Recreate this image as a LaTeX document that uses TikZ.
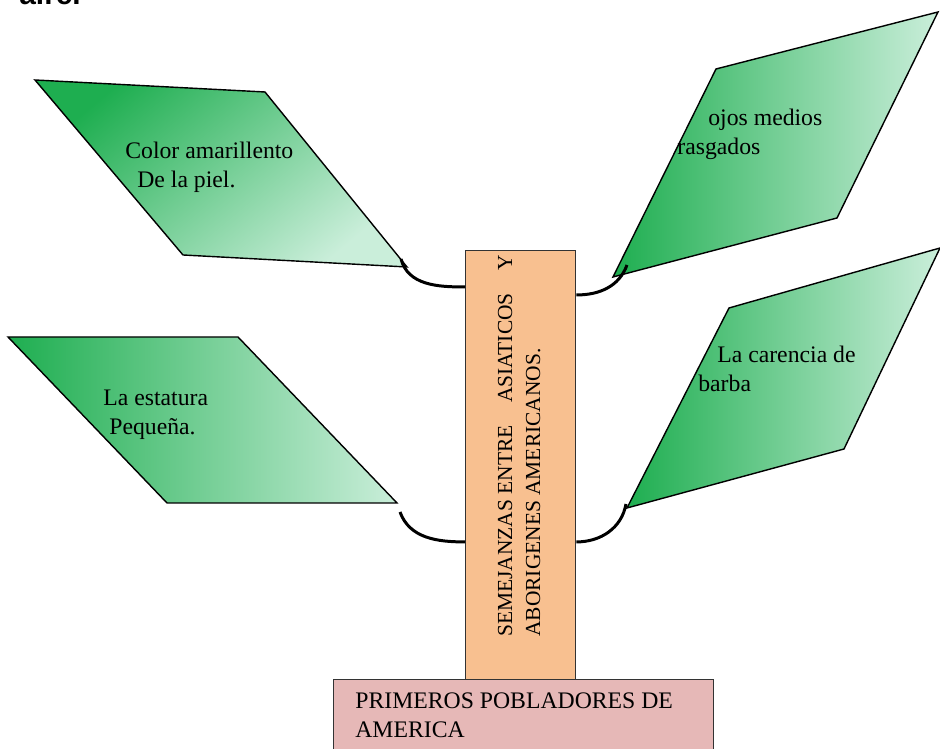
\documentclass[tikz,border=0pt]{standalone}
\usepackage{fontspec}
\setmainfont{Liberation Serif}
\newfontfamily\headfont{Liberation Sans}
\usetikzlibrary{positioning}
\definecolor{leafdark}{RGB}{30,174,80}
\definecolor{leaflight}{RGB}{202,238,218}
\definecolor{stemorange}{RGB}{248,192,144}
\definecolor{basepink}{RGB}{230,184,183}

\begin{document}
\begin{tikzpicture}[
    x=0.02cm, y=0.02cm,
    leaf/.style={draw=black, line width=0.8pt, left color=leafdark, right color=leaflight},
    leafdiag/.style={draw=black, line width=0.8pt, top color=leafdark, bottom color=leaflight, shading angle=40},
    txt/.style={anchor=base west, inner sep=0pt, align=left, font=\fontsize{13.5}{16.5}\selectfont},
    stembox/.style={rectangle, draw=black!80, line width=0.8pt, fill=stemorange, minimum width=2.2cm, minimum height=8.58cm, inner sep=0pt},
    basebox/.style={rectangle, draw=black!80, line width=0.8pt, fill=basepink, minimum width=7.6cm, minimum height=1.8cm, inner sep=0pt},
    link/.style={line width=1.7pt, black}
]
\useasboundingbox (0,0) rectangle (940,749);

\node[anchor=base west, inner sep=0pt, font=\headfont\bfseries\fontsize{17}{20}\selectfont] (title) at (19,744) {aire.};

% hojas
\draw[leafdiag] (35,669) -- (265,657) -- (407,482) -- (183,494) -- cycle;
\draw[leaf] (716,680) -- (938,737) -- (837,531) -- (613,472) -- cycle;
\draw[leaf] (8,412) -- (238,412) -- (397,246) -- (167,246) -- cycle;
\draw[leaf] (729,441) -- (940,501) -- (844,300) -- (627,241) -- cycle;

% base = last line
\node[txt] (color) at (125,561) {Color amarillento\\\hspace*{0.24cm}De la piel.};
\node[txt] (ojos) at (677,594) {\hspace*{0.62cm}ojos medios\\rasgados};
\node[txt] (estatura) at (103,314) {La estatura\\\hspace*{0.12cm}Pequeña.};
\node[txt] (barba) at (698,357) {\hspace*{0.38cm}La carencia de\\barba};

% tronco y base
\node[stembox, anchor=north west] (stem) at (465,499) {};
\node[txt, rotate=90, font=\fontsize{12.2}{15.9}\selectfont] (stemtext) at (540,112)
    {SEMEJANZAS ENTRE\hspace{0.45cm}ASIATICOS\hspace{0.45cm}Y\\ABORIGENES AMERICANOS.};
\node[basebox, anchor=north west] (base) at (333,70) {};
\node[txt] (basetext) at ([xshift=0.44cm, yshift=-1.18cm]base.north west) {PRIMEROS POBLADORES DE\\AMERICA};

% ramas
\coordinate (colorhook) at (401,490);
\coordinate (ojoshook) at (627,484);
\coordinate (estaturahook) at (400,237);
\coordinate (barbahook) at (626,245);

\draw[link] (colorhook) to[out=-75, in=180] ([yshift=-0.74cm]stem.north west);
\draw[link] ([yshift=-0.9cm]stem.north east) to[out=0, in=250] (ojoshook);
\draw[link] (estaturahook) to[out=-70, in=180] ([yshift=-5.84cm]stem.north west);
\draw[link] ([yshift=-5.84cm]stem.north east) to[out=0, in=260] (barbahook);

\end{tikzpicture}
\end{document}
